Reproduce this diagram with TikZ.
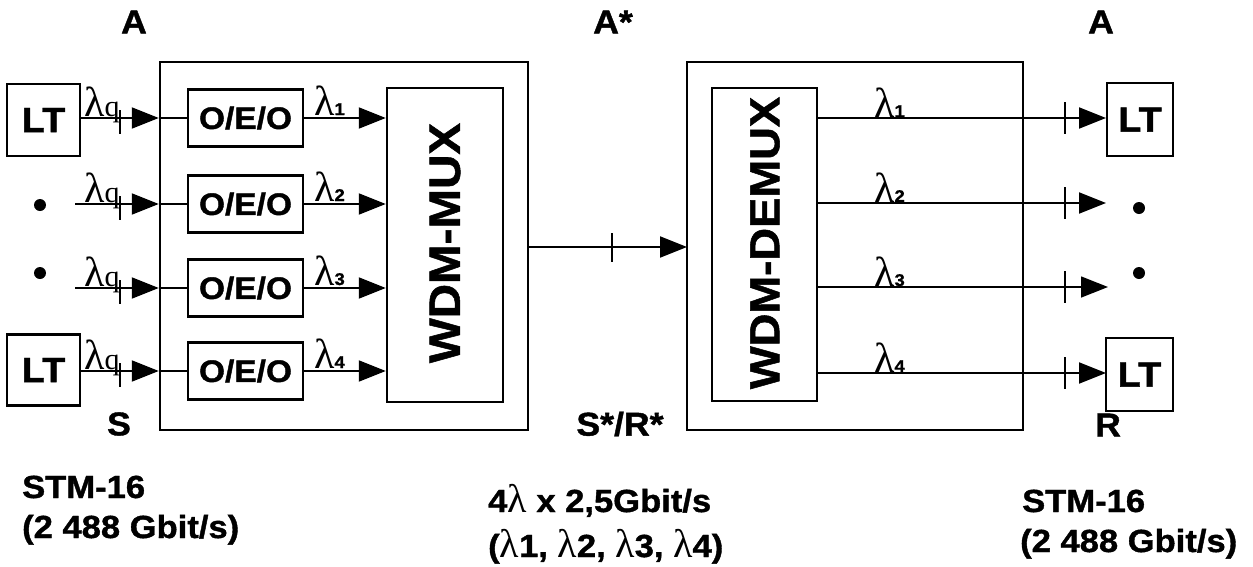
\documentclass[tikz,border=0pt]{standalone}
\usepackage{fontspec}
\setmainfont{Liberation Sans}[FakeStretch=1.08,BoldFeatures={FakeBold=1.2}]
\newfontfamily\lamfont{Liberation Serif}
\usetikzlibrary{arrows.meta}
\newcommand{\fsz}[1]{\fontsize{#1}{#1}\selectfont}
\newcommand{\lamsub}[1]{{\lamfont\fsz{42}λ}{\fsz{17}\bfseries #1}}
\newcommand{\lamq}{{\lamfont\fsz{42}λ\fsz{30}q}}
\newcommand{\lamt}{{\lamfont\mdseries\fsz{40}λ}}
\begin{document}
\begin{tikzpicture}[x=1pt,y=-1pt,
  boxn/.style={draw,line width=2.5pt,inner sep=0pt},
  ltbox/.style={boxn,font=\fsz{35}\bfseries},
  oeobox/.style={boxn,minimum width=115pt,minimum height=57pt,font=\fsz{31}\bfseries},
  dotn/.style={circle,fill,inner sep=0pt,minimum size=12pt},
  arr/.style={line width=2pt,-{Triangle[length=27pt,width=21pt]}},
  ln/.style={line width=2pt},
  tickl/.style={line width=1.5pt},
  lbl/.style={inner sep=0pt,font=\fsz{33}\bfseries},
  lamlbl/.style={inner sep=0pt,anchor=base west},
  txt/.style={inner sep=0pt,anchor=base west,font=\fsz{32}\bfseries}]
\useasboundingbox (0,0) rectangle (1253,566);

% big boxes
\node[boxn,minimum width=368pt,minimum height=368pt] (bigL) at (344,246) {};
\node[boxn,minimum width=336pt,minimum height=368pt] (bigR) at (855,246) {};
\node[boxn,minimum width=116pt,minimum height=314pt] (mux) at (445,245) {};
\node[boxn,minimum width=105pt,minimum height=313pt] (demux) at (764.5,244.5) {};
\node[inner sep=0pt,rotate=90,font=\fsz{44}\bfseries] (muxt) at (445,243) {WDM-MUX};
\node[inner sep=0pt,rotate=90,font=\fsz{42}\bfseries] (demuxt) at (765,243) {WDM-DEMUX};

% left terminals
\node[ltbox,minimum width=73pt,minimum height=72pt] (lt1) at (43.5,120) {LT};
\node[ltbox,minimum width=73pt,minimum height=71pt] (lt4) at (43.5,370) {LT};
\node[dotn] (d2) at (40,205) {};
\node[dotn] (d3) at (40,273) {};
\coordinate (s2) at (75,204);
\coordinate (s3) at (75,288);

% O/E/O
\node[oeobox] (oeo1) at (245.5,118) {O/E/O};
\node[oeobox] (oeo2) at (245.5,204) {O/E/O};
\node[oeobox] (oeo3) at (245.5,288) {O/E/O};
\node[oeobox] (oeo4) at (245.5,371) {O/E/O};

% left inputs
\draw[arr] (lt1.east |- oeo1) -- (bigL.west |- oeo1);
\draw[ln] (bigL.west |- oeo1) -- (oeo1.west);
\draw[arr] (s2) -- (bigL.west |- oeo2);
\draw[ln] (bigL.west |- oeo2) -- (oeo2.west);
\draw[arr] (s3) -- (bigL.west |- oeo3);
\draw[ln] (bigL.west |- oeo3) -- (oeo3.west);
\draw[arr] (lt4.east |- oeo4) -- (bigL.west |- oeo4);
\draw[ln] (bigL.west |- oeo4) -- (oeo4.west);
\foreach \yy in {118,204,288,371}{
  \draw[tickl] (120,\yy-8) -- (120,\yy+16);
}
\node[lamlbl] (q1) at (84,116) {\lamq};
\node[lamlbl] (q2) at (84,202) {\lamq};
\node[lamlbl] (q3) at (84,286) {\lamq};
\node[lamlbl] (q4) at (84,369) {\lamq};

% O/E/O to MUX
\draw[arr] (oeo1.east) -- (mux.west |- oeo1);
\draw[arr] (oeo2.east) -- (mux.west |- oeo2);
\draw[arr] (oeo3.east) -- (mux.west |- oeo3);
\draw[arr] (oeo4.east) -- (mux.west |- oeo4);
\node[lamlbl] (l1) at (314,115) {\lamsub{1}};
\node[lamlbl] (l2) at (314,201) {\lamsub{2}};
\node[lamlbl] (l3) at (314,285) {\lamsub{3}};
\node[lamlbl] (l4) at (314,368) {\lamsub{4}};

% middle link
\coordinate (m0) at (528,247);
\coordinate (m1) at (687,247);
\draw[arr] (m0) -- (m1);
\draw[tickl] (612,233) -- (612,262);

% right terminals
\node[ltbox,minimum width=66pt,minimum height=73pt] (rlt1) at (1140,119.5) {LT};
\node[ltbox,minimum width=67pt,minimum height=73pt] (rlt4) at (1139.5,374.5) {LT};
\node[dotn] (rd2) at (1139,208) {};
\node[dotn] (rd3) at (1139,273) {};
\coordinate (e1) at (1106,118);
\coordinate (e2) at (1106,203);
\coordinate (e3) at (1108,287);
\coordinate (e4) at (1106,373);
\draw[arr] (demux.east |- e1) -- (e1);
\draw[arr] (demux.east |- e2) -- (e2);
\draw[arr,line width=1.5pt] (demux.east |- e3) -- (e3);
\draw[arr] (demux.east |- e4) -- (e4);
\foreach \yy in {118,203,287,373}{
  \draw[tickl] (1065,\yy-16) -- (1065,\yy+16);
}
\node[lamlbl] (r1) at (874,117) {\lamsub{1}};
\node[lamlbl] (r2) at (874,202) {\lamsub{2}};
\node[lamlbl] (r3) at (874,286) {\lamsub{3}};
\node[lamlbl] (r4) at (874,372) {\lamsub{4}};

% reference point labels
\node[lbl] (a1) at (134,22) {A};
\node[lbl] (a2) at (613,22) {A*};
\node[lbl] (a3) at (1101,22) {A};
\node[lbl] (ps) at (119,424) {S};
\node[lbl] (psr) at (620,424) {S*/R*};
\node[lbl] (pr) at (1108,425) {R};

% bottom texts
\node[txt] (t1) at (22,498) {STM-16};
\node[txt] (t2) at (22,538) {(2 488 Gbit/s)};
\node[txt] (t3) at (488,512) {4\lamt{} x 2,5Gbit/s};
\node[txt] (t4) at (488,557) {(\lamt1, \lamt2, \lamt3, \lamt4)};
\node[txt] (t5) at (1022,512) {STM-16};
\node[txt] (t6) at (1020,552) {(2 488 Gbit/s)};
\end{tikzpicture}
\end{document}
